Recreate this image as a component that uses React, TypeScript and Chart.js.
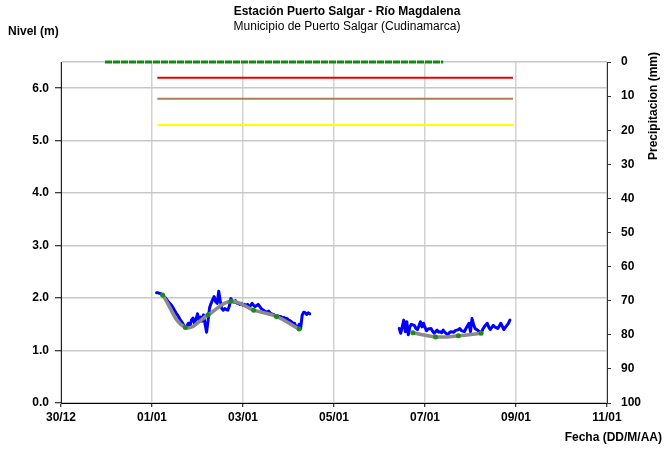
import React, { useEffect, useRef } from "react";
import { Chart, registerables } from "chart.js";

Chart.register(...registerables);

const xTickLabels = ["30/12", "01/01", "03/01", "05/01", "07/01", "09/01", "11/01"];

// Observed level, first stretch (day, level m)
const level1Days = [63, 64, 65, 66, 67, 68, 69, 70, 71, 72, 73, 74, 75, 76, 77, 78, 79, 80, 81, 82, 83, 84, 85, 86, 87, 88, 89, 90, 91, 92, 93, 94, 95, 96, 97, 98, 99, 100, 101, 102, 103, 104, 105, 106, 107, 108, 109, 110, 111, 112, 113, 114, 115, 116, 117, 118, 119, 120, 121, 122, 123, 124, 125, 126, 127, 128, 129, 130, 131, 132, 133, 134, 135, 136, 137, 138, 139, 140, 141, 142, 143, 144, 145, 146, 147, 148, 149, 150, 151, 152, 153, 154, 155, 156, 157, 158, 159, 160, 161, 162, 163, 164];
const level1Values = [2.10, 2.10, 2.09, 2.08, 2.06, 2.03, 2.00, 1.96, 1.92, 1.89, 1.86, 1.81, 1.76, 1.71, 1.67, 1.62, 1.57, 1.53, 1.48, 1.45, 1.47, 1.52, 1.46, 1.58, 1.62, 1.52, 1.60, 1.70, 1.57, 1.64, 1.56, 1.68, 1.50, 1.35, 1.58, 1.82, 1.90, 1.97, 2.03, 1.93, 1.90, 2.13, 1.95, 1.80, 1.77, 1.80, 1.78, 1.77, 1.85, 1.99, 1.94, 1.92, 1.95, 1.90, 1.91, 1.88, 1.90, 1.86, 1.88, 1.85, 1.88, 1.84, 1.86, 1.90, 1.86, 1.84, 1.86, 1.88, 1.84, 1.80, 1.78, 1.76, 1.74, 1.73, 1.75, 1.71, 1.70, 1.69, 1.67, 1.67, 1.66, 1.64, 1.65, 1.62, 1.63, 1.61, 1.61, 1.58, 1.57, 1.55, 1.52, 1.52, 1.45, 1.43, 1.50, 1.42, 1.67, 1.73, 1.72, 1.69, 1.72, 1.70];

// Observed level, second stretch
const level2Days = [223, 224, 225, 226, 227, 228, 229, 230, 231, 233, 234, 235, 236, 237, 238, 239, 240, 241, 242, 244, 245, 246, 247, 248, 249, 250, 251, 252, 253, 255, 256, 257, 259, 260, 262, 263, 264, 266, 267, 269, 270, 271, 272, 273, 275, 277, 278, 279, 281, 282, 283, 284, 285, 286, 288, 289, 290, 291, 292, 293, 294, 295, 296];
const level2Values = [1.42, 1.33, 1.45, 1.58, 1.36, 1.55, 1.30, 1.45, 1.50, 1.48, 1.42, 1.40, 1.47, 1.55, 1.45, 1.52, 1.44, 1.38, 1.41, 1.42, 1.37, 1.33, 1.36, 1.39, 1.35, 1.36, 1.34, 1.39, 1.35, 1.30, 1.34, 1.36, 1.35, 1.38, 1.40, 1.42, 1.38, 1.36, 1.42, 1.52, 1.36, 1.61, 1.50, 1.42, 1.38, 1.33, 1.40, 1.45, 1.52, 1.45, 1.40, 1.44, 1.48, 1.45, 1.42, 1.47, 1.52, 1.46, 1.40, 1.44, 1.48, 1.52, 1.58];

// Smoothed / mean level (grey line with green markers)
const trend1Days = [67, 82, 97, 112, 127, 142, 157];
const trend1Values = [2.06, 1.44, 1.68, 1.94, 1.77, 1.65, 1.41];
const trend2Days = [232, 247, 262, 277];
const trend2Values = [1.34, 1.26, 1.28, 1.33];

// Precipitation (mm)
const precipDays = [29, 252];
const precipValues = [0, 0];

// Alert thresholds (m)
const thresholdDays = [63.5, 298];
const redLevel = 6.2;
const brownLevel = 5.8;
const yellowLevel = 5.3;

const FONT = "'Liberation Sans', Arial, sans-serif";

const textPlugin = {
  id: "texts",
  afterDraw(chart: any) {
    const ctx = chart.ctx;
    ctx.save();
    ctx.fillStyle = "#000";
    ctx.textBaseline = "middle";
    ctx.textAlign = "center";
    ctx.font = `bold 12px ${FONT}`;
    ctx.fillText("Estación Puerto Salgar - Río Magdalena", 347, 12);
    ctx.font = `12px ${FONT}`;
    ctx.fillText("Municipio de Puerto Salgar (Cudinamarca)", 347, 27);
    ctx.font = `bold 12px ${FONT}`;
    ctx.textAlign = "left";
    ctx.fillText("Nivel (m)", 8, 32);
    ctx.textAlign = "right";
    ctx.fillText("Fecha (DD/M/AA)", 662, 438);
    ctx.translate(654, 106);
    ctx.rotate(-Math.PI / 2);
    ctx.textAlign = "center";
    ctx.fillText("Precipitacion (mm)", 0, 0);
    ctx.restore();
  },
};

function pts(days: number[], vals: number[]) {
  return days.map((d, i) => ({ x: d, y: vals[i] }));
}

export default function App() {
  const ref = useRef<HTMLCanvasElement>(null);
  useEffect(() => {
    if (!ref.current) return;
    const levelData = [...pts(level1Days, level1Values), { x: 190, y: null as any }, ...pts(level2Days, level2Values)];
    const trendData = [...pts(trend1Days, trend1Values), { x: 190, y: null as any }, ...pts(trend2Days, trend2Values)];
    const line = (lvl: number) => thresholdDays.map((d) => ({ x: d, y: lvl }));
    const chart = new Chart(ref.current, {
      type: "line",
      data: {
        datasets: [
          {
            label: "Precipitación",
            data: pts(precipDays, precipValues),
            yAxisID: "y1",
            borderColor: "#128a12",
            borderWidth: 3,
            borderDash: [7, 1],
            pointRadius: 0,
            clip: 6,
            order: 0,
          } as any,
          {
            label: "Tendencia",
            data: trendData,
            yAxisID: "y",
            borderColor: "#8a8a8a",
            borderWidth: 3.5,
            tension: 0.4,
            pointRadius: 2.5,
            pointBackgroundColor: "#1e8a1e",
            pointBorderColor: "#1e8a1e",
            pointBorderWidth: 0,
            spanGaps: false,
            borderJoinStyle: "round",
            borderCapStyle: "round",
            order: 1,
          },
          {
            label: "Nivel",
            data: levelData,
            yAxisID: "y",
            borderColor: "#0000ff",
            borderWidth: 3,
            pointRadius: 0,
            tension: 0,
            spanGaps: false,
            borderJoinStyle: "round",
            borderCapStyle: "round",
            order: 2,
          },
          {
            label: "Rojo",
            data: line(redLevel),
            yAxisID: "y",
            borderColor: "#ee0000",
            borderWidth: 2,
            pointRadius: 0,
            order: 3,
          },
          {
            label: "Naranja",
            data: line(brownLevel),
            yAxisID: "y",
            borderColor: "#b07c4c",
            borderWidth: 2,
            pointRadius: 0,
            order: 3,
          },
          {
            label: "Amarillo",
            data: line(yellowLevel),
            yAxisID: "y",
            borderColor: "#ffff00",
            borderWidth: 2,
            pointRadius: 0,
            order: 3,
          },
        ],
      },
      options: {
        animation: false,
        responsive: false,
        maintainAspectRatio: false,
        layout: { padding: { top: 62, left: 0, right: 0, bottom: 0 } },
        plugins: { legend: { display: false }, tooltip: { enabled: false }, title: { display: false } },
        scales: {
          x: {
            type: "linear",
            min: 0,
            max: 360,
            afterFit: (s: any) => { s.height = 46; },
            afterBuildTicks: (s: any) => {
              s.ticks = xTickLabels.map((_, i) => ({ value: i * 60 }));
            },
            ticks: {
              callback: (v: any) => xTickLabels[Math.round(Number(v) / 60)] ?? "",
              font: { family: FONT, size: 12, weight: "bold" },
              color: "#000",
              padding: 3,
              maxRotation: 0,
              autoSkip: false,
            },
            grid: { color: "#d2d2d2", lineWidth: 1.5, tickColor: "#000", tickLength: 4, tickWidth: 1 },
            border: { color: "#000", width: 1 },
          },
          y: {
            position: "left",
            min: 0,
            max: 6.5,
            afterFit: (s: any) => { s.width = 61; },
            afterBuildTicks: (s: any) => {
              s.ticks = [0, 1, 2, 3, 4, 5, 6, 6.5].map((v) => ({ value: v }));
            },
            ticks: {
              callback: (v: any) => (Number(v) === 6.5 ? "" : Number(v).toFixed(1)),
              font: { family: FONT, size: 12, weight: "bold" },
              color: "#000",
              padding: 6,
            },
            grid: {
              color: "#c8c8c8",
              lineWidth: 1.5,
              tickColor: (c: any) => (c.tick && c.tick.value === 6.5 ? "rgba(0,0,0,0)" : "#000"),
              tickLength: 6,
              tickWidth: 1,
            },
            border: { color: "#222", width: 1 },
          },
          y1: {
            position: "right",
            min: 0,
            max: 100,
            reverse: true,
            afterFit: (s: any) => { s.width = 57; },
            ticks: {
              stepSize: 10,
              font: { family: FONT, size: 12, weight: "bold" },
              color: "#000",
              padding: 10,
            },
            grid: { drawOnChartArea: false, tickColor: "#333", tickLength: 4, tickWidth: 1 },
            border: { color: "#333", width: 1 },
          },
        },
      } as any,
      plugins: [textPlugin],
    });
    return () => chart.destroy();
  }, []);
  return (
    <div style={{ position: "absolute", left: 0, top: 0, width: 664, height: 449, background: "#fff" }}>
      <canvas ref={ref} width={664} height={449} style={{ width: 664, height: 449 }} />
    </div>
  );
}
